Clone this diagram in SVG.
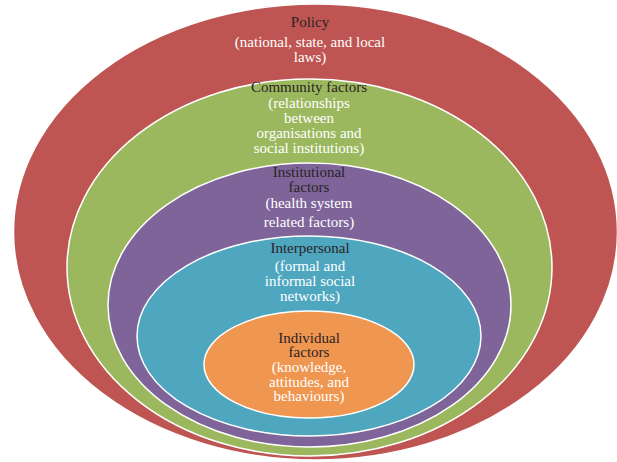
<svg xmlns="http://www.w3.org/2000/svg" width="617" height="462" viewBox="0 0 617 462">
<style>
.ring{stroke:#ffffff;stroke-width:1.5}
text{font-family:"Liberation Serif","Times New Roman",serif;font-size:15px;text-anchor:middle}
.t{fill:#2a2425}
.d{fill:#ffffff}
</style>
<rect width="617" height="462" fill="#ffffff"/>
<g id="policy">
<ellipse class="ring" cx="315.5" cy="232" rx="302" ry="228" fill="#be5552"/>
<text class="t" x="310" y="27">Policy</text>
<text class="d" x="310" y="47">(national, state, and local</text>
<text class="d" x="310" y="62">laws)</text>
</g>
<g id="community">
<ellipse class="ring" cx="309.5" cy="267.5" rx="242.5" ry="188.5" fill="#9cb85f"/>
<text class="t" x="309" y="92">Community factors</text>
<text class="d" x="309" y="107.5">(relationships</text>
<text class="d" x="309" y="123">between</text>
<text class="d" x="309" y="138">organisations and</text>
<text class="d" x="309" y="153">social institutions)</text>
</g>
<g id="institutional">
<ellipse class="ring" cx="309.5" cy="305" rx="201.5" ry="142" fill="#7f649a"/>
<text class="t" x="309" y="177">Institutional</text>
<text class="t" x="309" y="192">factors</text>
<text class="d" x="309" y="208">(health system</text>
<text class="d" x="309" y="227">related factors)</text>
</g>
<g id="interpersonal">
<ellipse class="ring" cx="309" cy="336" rx="172" ry="100" fill="#4ea6bf"/>
<text class="t" x="310" y="253">Interpersonal</text>
<text class="d" x="310" y="271">(formal and</text>
<text class="d" x="310" y="286">informal social</text>
<text class="d" x="310" y="300.5">networks)</text>
</g>
<g id="individual">
<ellipse class="ring" cx="309" cy="364.5" rx="105" ry="53.5" fill="#ef9650"/>
<text class="t" x="309" y="342.5">Individual</text>
<text class="t" x="309" y="357">factors</text>
<text class="d" x="309" y="372">(knowledge,</text>
<text class="d" x="309" y="386.5">attitudes, and</text>
<text class="d" x="309" y="401">behaviours)</text>
</g>
<g id="connectors"/>
</svg>
